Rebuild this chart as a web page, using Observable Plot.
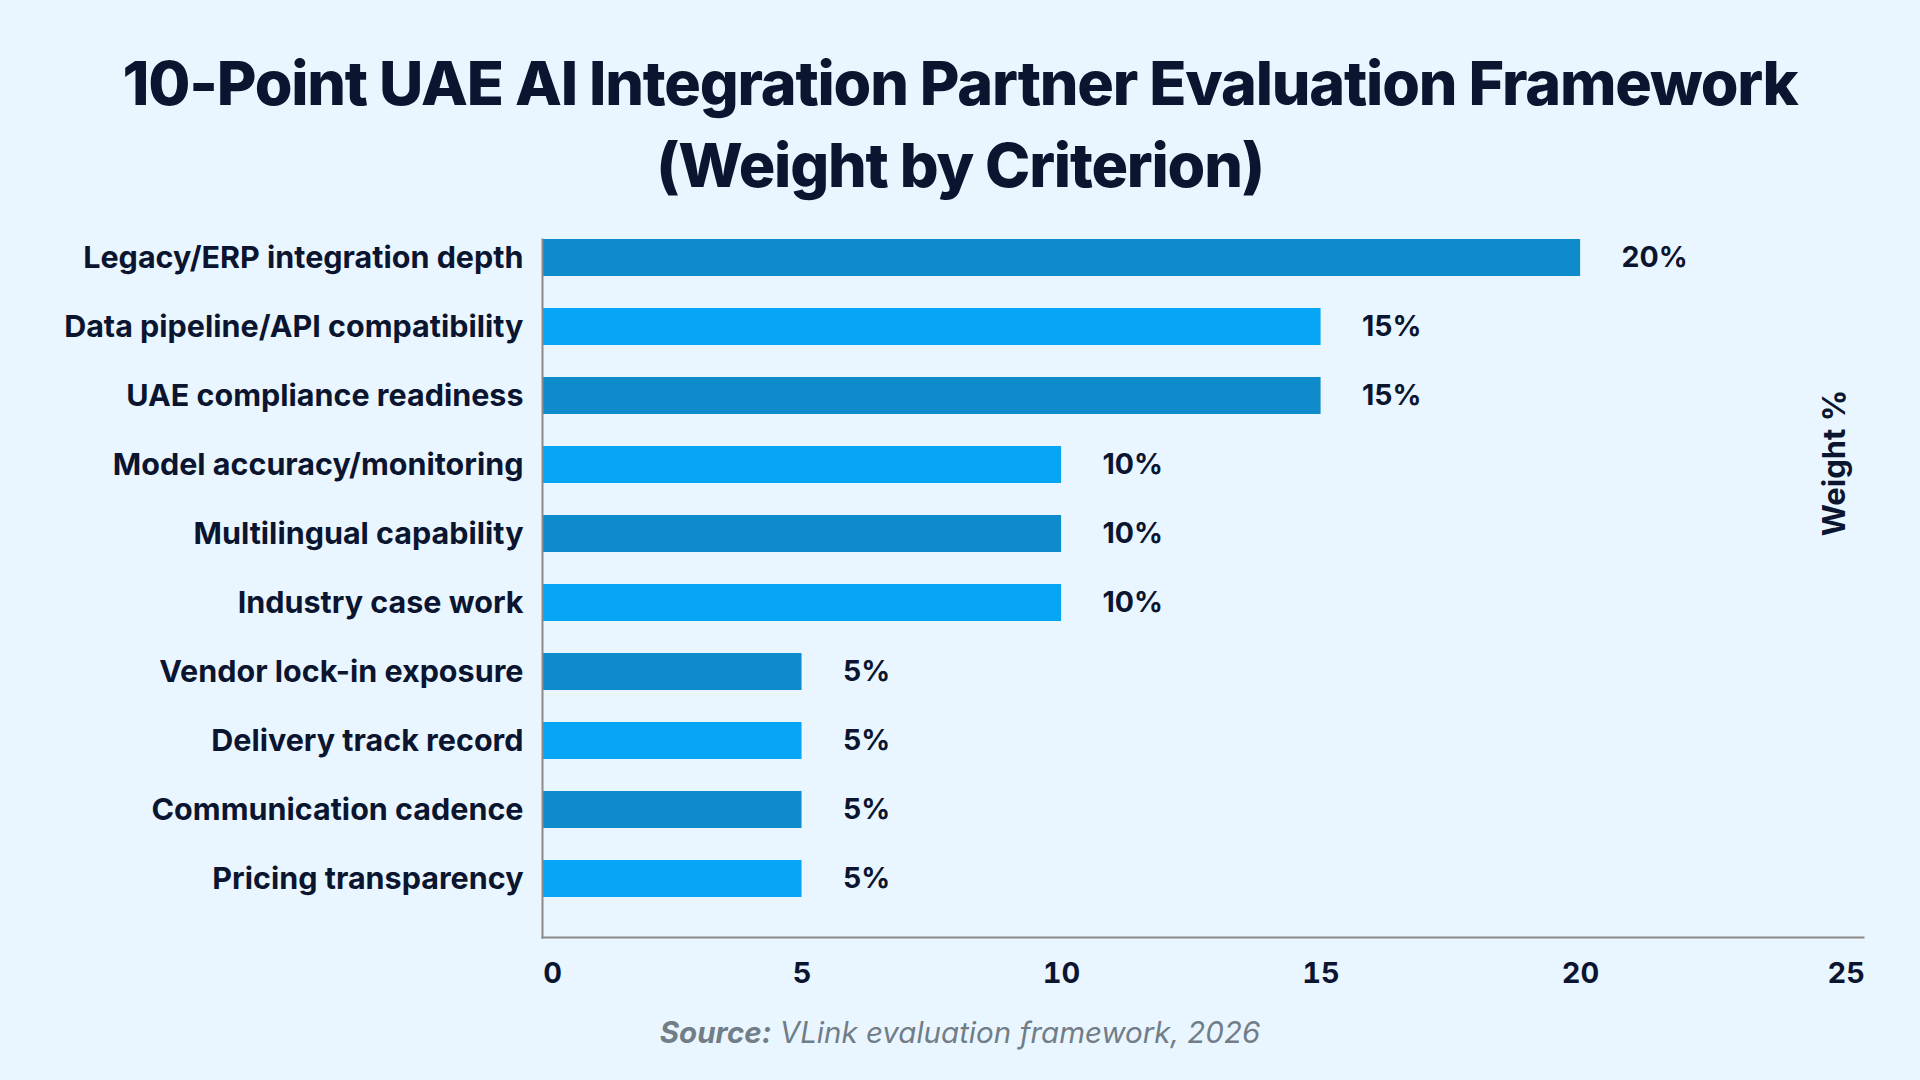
<!DOCTYPE html>
<html>
<head>
<meta charset="utf-8">
<script src="https://cdn.jsdelivr.net/npm/d3@7"></script>
<script src="https://cdn.jsdelivr.net/npm/@observablehq/plot@0.6"></script>
<style>
  html, body { margin: 0; padding: 0; background: #EAF6FF; }
  #wrap { position: relative; width: 1920px; height: 1080px; background: #EAF6FF; font-family: Inter, "Noto Sans", sans-serif; color: #0b1530; overflow: hidden; }
  #title { position: absolute; left: 0; top: 42px; width: 1920px; text-align: center; font-size: 61px; font-weight: 800; line-height: 82px; letter-spacing: -1.2px; }
  #chart { position: absolute; left: 0; top: 0; }
  #ylab { position: absolute; left: 1833px; top: 463px; transform: translate(-50%, -50%) rotate(-90deg); font-size: 31px; font-weight: 700; white-space: nowrap; }
  #source { position: absolute; left: 0; width: 1920px; top: 1013px; text-align: center; font-size: 29.5px; line-height: 38px; font-style: italic; color: #717d87; }
  #source b { font-weight: 700; }
</style>
</head>
<body>
<div id="wrap">
  <div id="chart"></div>
  <div id="title">10-Point UAE AI Integration Partner Evaluation Framework<br>(Weight by Criterion)</div>
  <div id="ylab">Weight %</div>
  <div id="source"><b>Source:</b> VLink evaluation framework, 2026</div>
</div>
<script>
const criteria = [
  "Legacy/ERP integration depth",
  "Data pipeline/API compatibility",
  "UAE compliance readiness",
  "Model accuracy/monitoring",
  "Multilingual capability",
  "Industry case work",
  "Vendor lock-in exposure",
  "Delivery track record",
  "Communication cadence",
  "Pricing transparency"
];
const weights = [20, 15, 15, 10, 10, 10, 5, 5, 5, 5];
const xTicks = [0, 5, 10, 15, 20, 25];

const data = criteria.map((c, i) => ({criterion: c, weight: weights[i], idx: i}));
const DARK = "#0E8BCA", LIGHT = "#07A5F5", INK = "#0b1530";
const tickStyle = {tickSize: 0, tickPadding: 25, fontSize: 29, fontWeight: 700, label: null, fill: INK};

const chart = Plot.plot({
  width: 1920,
  height: 1080,
  marginLeft: 542,
  marginRight: 57,
  marginTop: 239,
  marginBottom: 143,
  style: {background: "transparent", fontFamily: "Inter, 'Noto Sans', sans-serif", color: INK},
  x: {domain: [0, 25.45]},
  y: {domain: criteria, range: [239, 897], paddingInner: 0.47, paddingOuter: 0},
  marks: [
    Plot.barX(data, {x: "weight", y: "criterion", fill: d => d.idx % 2 ? LIGHT : DARK}),
    Plot.text(data, {x: "weight", y: "criterion", text: d => d.weight + "%", textAnchor: "start", dx: 41, fontSize: 28.5, fontWeight: 700, fill: INK}),
    Plot.axisX({...tickStyle, ticks: xTicks.slice(0, 1), dx: 10}),
    Plot.axisX({...tickStyle, ticks: xTicks.slice(1, -1)}),
    Plot.axisX({...tickStyle, ticks: xTicks.slice(-1), dx: 6}),
    Plot.axisY({tickSize: 0, tickPadding: 19, fontSize: 30.5, fontWeight: 700, label: null, fill: INK, style: {letterSpacing: "0.2px"}}),
    Plot.frame({anchor: "bottom", stroke: "#8a8a8a", strokeWidth: 2}),
    Plot.frame({anchor: "left", stroke: "#8a8a8a", strokeWidth: 2})
  ]
});
document.getElementById("chart").appendChild(chart);
</script>
</body>
</html>
